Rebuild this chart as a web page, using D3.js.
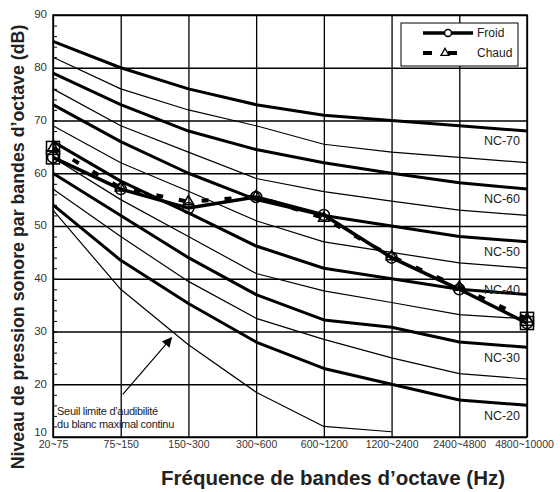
<!DOCTYPE html>
<html>
<head>
<meta charset="utf-8">
<script src="https://cdn.jsdelivr.net/npm/d3@7"></script>
<style>
  body { margin: 0; background: #fff; }
  svg { display: block; font-family: "Liberation Sans", Arial, sans-serif; }
</style>
</head>
<body>
<div id="chart"></div>
<script>
// octave bands
var categories = ["20~75", "75~150", "150~300", "300~600", "600~1200", "1200~2400", "2400~4800", "4800~10000"];
var yTicks = [10, 20, 30, 40, 50, 60, 70, 80, 90];

// NC curves
var nc70 = [85, 80, 76, 73, 71, 70, 69, 68];
var nc65 = [82, 76, 72, 69, 65.5, 64, 63, 62];
var nc60 = [79, 73, 68, 64.5, 62, 60, 58.2, 57];
var nc55 = [76, 69, 64, 59, 56.5, 54.7, 53, 52];
var nc50 = [73, 66, 60, 55, 52, 50, 48, 47];
var nc45 = [69, 62, 56.6, 51, 47, 45, 43, 42];
var nc40 = [66, 58.5, 52.5, 46.2, 42, 40, 38, 37];
var nc35 = [63, 55, 48, 41, 37.7, 35.5, 33.2, 32.4];
var nc30 = [60, 52, 44, 37, 32.2, 30.8, 28, 27];
var nc25 = [57, 48, 39.5, 32.5, 28.5, 25, 22, 21];
var nc20 = [54, 43.5, 35.3, 28, 23, 20, 17, 16];
var seuil = [53, 38, 27.5, 18.5, 12, 11]; // threshold, stops at 1200~2400

// measured levels
var froid = [63, 57, 53.4, 55.5, 52.1, 44, 38, 31.6];
var chaud = [64.8, 57.2, 54.6, 55.6, 51.5, 44.2, 38.4, 32.4];

var curves = [
    { name: "NC-70", values: nc70, thick: true },
    { name: "NC-65", values: nc65, thick: false },
    { name: "NC-60", values: nc60, thick: true },
    { name: "NC-55", values: nc55, thick: false },
    { name: "NC-50", values: nc50, thick: true },
    { name: "NC-45", values: nc45, thick: false },
    { name: "NC-40", values: nc40, thick: true },
    { name: "NC-35", values: nc35, thick: false },
    { name: "NC-30", values: nc30, thick: true },
    { name: "NC-25", values: nc25, thick: false },
    { name: "NC-20", values: nc20, thick: true },
    { name: "seuil", values: seuil, thick: false }
];

var width = 560,
    height = 492;
var margin = { top: 15, right: 33, bottom: 55, left: 53 };
var w = width - margin.left - margin.right,
    h = height - margin.top - margin.bottom;

var svg = d3.select("#chart").append("svg")
    .attr("width", width)
    .attr("height", height);
var g = svg.append("g")
    .attr("transform", "translate(" + margin.left + "," + margin.top + ")");

var x = d3.scalePoint().domain(categories).range([0, w]);
var xi = d3.scaleLinear().domain([0, categories.length - 1]).range([0, w]); // fractional band index
var y = d3.scaleLinear().domain([10, 90]).range([h, 0]);

// horizontal grid
g.append("g")
    .call(d3.axisLeft(y).tickValues(yTicks).tickSize(-w).tickFormat(""))
    .call(function (s) { s.select(".domain").remove(); })
    .selectAll("line").attr("stroke", "#000").attr("stroke-width", 1.3);

// vertical grid
g.append("g")
    .attr("transform", "translate(0," + h + ")")
    .call(d3.axisBottom(x).tickSize(-h).tickFormat(""))
    .call(function (s) { s.select(".domain").remove(); })
    .selectAll("line").attr("stroke", "#000").attr("stroke-width", 1.3);

// minor ticks on the left axis
g.append("g")
    .call(d3.axisLeft(y).tickValues(d3.range(12, 90, 2)).tickSize(-4).tickFormat(""))
    .call(function (s) { s.select(".domain").remove(); })
    .selectAll("line").attr("stroke", "#000").attr("stroke-width", 1);

// frame
g.append("rect")
    .attr("width", w).attr("height", h)
    .attr("fill", "none").attr("stroke", "#000").attr("stroke-width", 1.5);

// tick labels
var axisY = g.append("g")
    .call(d3.axisLeft(y).tickValues(yTicks).tickSize(0).tickPadding(6));
axisY.select(".domain").remove();
axisY.selectAll("text")
    .attr("font-size", "11.5px")
    .attr("dy", function (d) { return d === 10 ? "-0.1em" : "0.25em"; })
    .attr("font-family", "Liberation Sans, Arial, sans-serif")
    .attr("fill", "#333");

var axisX = g.append("g")
    .attr("transform", "translate(0," + h + ")")
    .call(d3.axisBottom(x).tickSize(0).tickPadding(4));
axisX.select(".domain").remove();
axisX.selectAll("text")
    .attr("font-size", "10.5px")
    .attr("font-family", "Liberation Sans, Arial, sans-serif")
    .attr("fill", "#333")
    .attr("dx", function (d, i) { return i === categories.length - 1 ? -3 : 0; });

// NC curves
var line = d3.line()
    .x(function (d, i) { return x(categories[i]); })
    .y(function (d) { return y(d); });

g.selectAll(".nc")
    .data(curves)
    .enter().append("path")
    .attr("class", "nc")
    .attr("d", function (d) { return line(d.values); })
    .attr("fill", "none")
    .attr("stroke", "#000")
    .attr("stroke-width", function (d) { return d.thick ? 3 : 1.2; })
    .attr("stroke-linejoin", "round");

// NC labels at the right end
g.selectAll(".nclabel")
    .data(curves.filter(function (d) { return d.thick; }))
    .enter().append("text")
    .attr("class", "nclabel")
    .attr("x", w - 7)
    .attr("y", function (d) {
        var last = d.values[d.values.length - 1];
        return y(d.name === "NC-40" ? last + 0.9 : last - 1.9);
    })
    .attr("dy", "0.35em")
    .attr("text-anchor", "end")
    .attr("font-size", "12.5px")
    .attr("fill", "#222")
    .text(function (d) { return d.name; });

// measured series
g.append("path")
    .attr("d", line(froid))
    .attr("fill", "none")
    .attr("stroke", "#000")
    .attr("stroke-width", 3.5);

g.append("path")
    .attr("d", line(chaud))
    .attr("fill", "none")
    .attr("stroke", "#000")
    .attr("stroke-width", 4)
    .attr("stroke-dasharray", "7,16");

g.selectAll(".mf")
    .data(froid)
    .enter().append("circle")
    .attr("class", "mf")
    .attr("cx", function (d, i) { return x(categories[i]); })
    .attr("cy", function (d) { return y(d); })
    .attr("r", 5.5)
    .attr("fill", "none")
    .attr("stroke", "#000")
    .attr("stroke-width", 1.5);

var tri = d3.symbol().type(d3.symbolTriangle).size(50);
g.selectAll(".mc")
    .data(chaud)
    .enter().append("path")
    .attr("class", "mc")
    .attr("d", tri)
    .attr("transform", function (d, i) { return "translate(" + x(categories[i]) + "," + y(d) + ")"; })
    .attr("fill", "none")
    .attr("stroke", "#000")
    .attr("stroke-width", 1.5);

// squares on the end points
var ends = [];
[froid, chaud].forEach(function (s) {
    ends.push({ i: 0, v: s[0] });
    ends.push({ i: s.length - 1, v: s[s.length - 1] });
});
g.selectAll(".end")
    .data(ends)
    .enter().append("rect")
    .attr("class", "end")
    .attr("x", function (d) { return x(categories[d.i]) - 6.5; })
    .attr("y", function (d) { return y(d.v) - 6.5; })
    .attr("width", 13)
    .attr("height", 13)
    .attr("fill", "none")
    .attr("stroke", "#000")
    .attr("stroke-width", 1.5);

// threshold annotation
svg.append("defs").append("marker")
    .attr("id", "head")
    .attr("viewBox", "0 0 10 10")
    .attr("refX", 9).attr("refY", 5)
    .attr("markerWidth", 10).attr("markerHeight", 10)
    .attr("markerUnits", "userSpaceOnUse")
    .attr("orient", "auto")
    .append("path")
    .attr("d", "M0,0L10,5L0,10z")
    .attr("fill", "#000");

g.append("line")
    .attr("x1", xi(1.03)).attr("y1", y(18.1))
    .attr("x2", xi(1.75)).attr("y2", y(28.8))
    .attr("stroke", "#000")
    .attr("stroke-width", 1.2)
    .attr("marker-end", "url(#head)");

var note = g.append("text")
    .attr("x", xi(0.06))
    .attr("font-size", "11px")
    .attr("letter-spacing", "-0.3px")
    .attr("fill", "#222");
note.append("tspan").attr("x", xi(0.06)).attr("y", y(14.2)).text("Seuil limite d\u2019audibilit\u00e9");
note.append("tspan").attr("x", xi(0.06)).attr("y", y(11.75)).text("du blanc maximal continu");

// legend
var legend = svg.append("g").attr("transform", "translate(401,23)");
legend.append("rect")
    .attr("width", 117).attr("height", 43)
    .attr("fill", "#fff").attr("stroke", "#000").attr("stroke-width", 1);
legend.append("line")
    .attr("x1", 22).attr("x2", 72).attr("y1", 10).attr("y2", 10)
    .attr("stroke", "#000").attr("stroke-width", 3.5);
legend.append("circle")
    .attr("cx", 47).attr("cy", 10).attr("r", 3.5)
    .attr("fill", "#fff").attr("stroke", "#000").attr("stroke-width", 1.5);
legend.append("line")
    .attr("x1", 22).attr("x2", 56).attr("y1", 30).attr("y2", 30)
    .attr("stroke", "#000").attr("stroke-width", 4)
    .attr("stroke-dasharray", "9,16");
legend.append("path")
    .attr("d", d3.symbol().type(d3.symbolTriangle).size(28))
    .attr("transform", "translate(44,30)")
    .attr("fill", "#fff").attr("stroke", "#000").attr("stroke-width", 1.3);
legend.append("text")
    .attr("x", 76).attr("y", 14)
    .attr("font-size", "12px").attr("fill", "#222")
    .text("Froid");
legend.append("text")
    .attr("x", 76).attr("y", 34)
    .attr("font-size", "12px").attr("fill", "#222")
    .text("Chaud");

// axis titles
svg.append("text")
    .attr("transform", "translate(24,247) rotate(-90)")
    .attr("text-anchor", "middle")
    .attr("font-size", "17.8px")
    .attr("font-weight", "bold")
    .attr("fill", "#222")
    .text("Niveau de pression sonore par bandes d\u2019octave (dB)");

svg.append("text")
    .attr("x", 333)
    .attr("y", 485)
    .attr("text-anchor", "middle")
    .attr("font-size", "20.5px")
    .attr("font-weight", "bold")
    .attr("fill", "#222")
    .text("Fr\u00e9quence de bandes d\u2019octave (Hz)");
</script>
</body>
</html>
